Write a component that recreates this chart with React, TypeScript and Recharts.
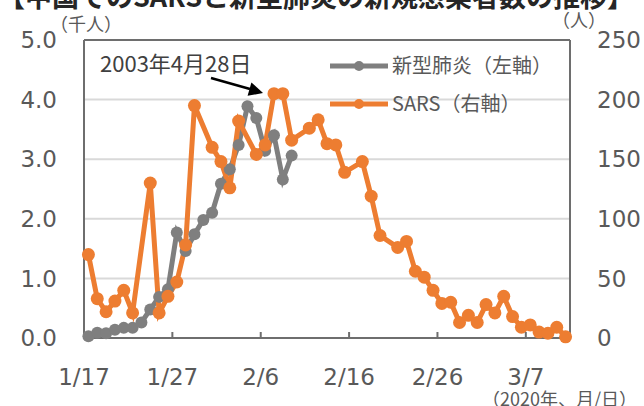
import React from 'react';
import { LineChart, Line, XAxis, YAxis, CartesianGrid, ReferenceLine } from 'recharts';

// 2020/1/17 〜 3/11（日次）
const dates = [
  '1/17', '1/18', '1/19', '1/20', '1/21', '1/22', '1/23', '1/24', '1/25', '1/26',
  '1/27', '1/28', '1/29', '1/30', '1/31', '2/1', '2/2', '2/3', '2/4', '2/5',
  '2/6', '2/7', '2/8', '2/9', '2/10', '2/11', '2/12', '2/13', '2/14', '2/15',
  '2/16', '2/17', '2/18', '2/19', '2/20', '2/21', '2/22', '2/23', '2/24', '2/25',
  '2/26', '2/27', '2/28', '2/29', '3/1', '3/2', '3/3', '3/4', '3/5', '3/6',
  '3/7', '3/8', '3/9', '3/10', '3/11',
];

// 新型肺炎 新規感染者数（千人、左軸）
const covid = [
  0.03, 0.09, 0.08, 0.14, 0.17, 0.17, 0.26, 0.48, 0.69, 0.82,
  1.77, 1.46, 1.74, 1.98, 2.1, 2.59, 2.83, 3.24, 3.89, 3.69,
  3.14, 3.4, 2.66, 3.06,
];

// SARS 新規感染者数（人、右軸）2003/4/28 を 2/7 付近に合わせたもの
const sars: (number | null)[] = [
  70, 33, 22, 31, 40, 21, null, 130, 21, 35,
  47, 78, 195, null, 160, 148, 126, 182, null, 154,
  162, 205, 205, 166, null, 176, 183, 163, 162, 139,
  null, 148, 119, 86, null, 76, 81, 56, 51, 40,
  29, 30, 13, 19, 13, 28, 21, 35, 18, 9,
  11, 5, 4, 9, 1,
];

const xTicks = [0, 10, 20, 30, 40, 50];
const leftTicks = [0, 1, 2, 3, 4, 5];
const rightTicks = [0, 50, 100, 150, 200, 250];

const GRAY = '#7f7f7f';
const ORANGE = '#ed7d31';
const AXIS = '#6e6e6e';
const TEXT = '#595959';
const NUM_FONT = '"DejaVu Sans", Verdana, sans-serif';
const JP_FONT = '"Noto Sans CJK JP", sans-serif';

const data = dates.map((d, i) => ({
  date: d,
  pos: i + 0.5,
  covid: i < covid.length ? covid[i] : null,
  sars: sars[i],
}));

const XTick = (props: any) => {
  const { x, y, payload } = props;
  return (
    <g>
      {payload.value > 0 && <line x1={x} x2={x} y1={y} y2={y - 6} stroke={AXIS} strokeWidth={2} />}
      <text x={x} y={y + 47} textAnchor="middle" fill={TEXT} fontSize={23} fontFamily={NUM_FONT}>
        {dates[payload.value]}
      </text>
    </g>
  );
};

export default function App() {
  return (
    <div style={{ position: 'absolute', left: 0, top: 0, width: 644, height: 406, background: '#fff', overflow: 'hidden' }}>
      <LineChart width={644} height={406} data={data} margin={{ top: 40, right: 0, bottom: 28, left: 0 }}>
        <CartesianGrid vertical={false} stroke="#d9d9d9" strokeWidth={2} yAxisId="left" />
        <XAxis
          type="number"
          dataKey="pos"
          domain={[0, 55]}
          ticks={xTicks}
          tick={<XTick />}
          tickSize={0}
          tickMargin={0}
          tickLine={false}
          axisLine={{ stroke: AXIS, strokeWidth: 2 }}
          height={40}
          interval={0}
        />
        <YAxis
          yAxisId="left"
          domain={[0, 5]}
          ticks={leftTicks}
          tickFormatter={(v: number) => v.toFixed(1)}
          width={84}
          tickSize={0}
          tickMargin={27}
          tickLine={false}
          axisLine={{ stroke: AXIS, strokeWidth: 2 }}
          tick={{ fill: TEXT, fontSize: 23, fontFamily: NUM_FONT }}
          interval={0}
        />
        <YAxis
          yAxisId="right"
          orientation="right"
          domain={[0, 250]}
          ticks={rightTicks}
          width={74}
          tickSize={0}
          tickMargin={27}
          tickLine={false}
          axisLine={{ stroke: AXIS, strokeWidth: 2 }}
          tick={{ fill: TEXT, fontSize: 23, fontFamily: NUM_FONT, textAnchor: 'start' }}
          interval={0}
        />
        <ReferenceLine yAxisId="left" y={5} stroke={AXIS} strokeWidth={2} />
        <Line
          yAxisId="left"
          dataKey="covid"
          stroke={GRAY}
          strokeWidth={5}
          dot={{ r: 6, fill: GRAY, stroke: 'none' }}
          isAnimationActive={false}
          type="linear"
        />
        <Line
          yAxisId="right"
          dataKey="sars"
          stroke={ORANGE}
          strokeWidth={5}
          dot={{ r: 6.5, fill: ORANGE, stroke: 'none' }}
          connectNulls
          isAnimationActive={false}
          type="linear"
        />
      </LineChart>
      <svg width={644} height={406} style={{ position: 'absolute', left: 0, top: 0, pointerEvents: 'none' }}>
        <text x={-2} y={7} fontSize={27} fontWeight="bold" fill="#262626" fontFamily={JP_FONT}>
          【中国でのSARSと新型肺炎の新規感染者数の推移】
        </text>
        <text x={50} y={31} fontSize={18} fill={TEXT} fontFamily={JP_FONT}>（千人）</text>
        <text x={552} y={27} fontSize={18} fill={TEXT} fontFamily={JP_FONT}>（人）</text>
        <text x={100} y={72} fontSize={22} fill="#404040" fontFamily={JP_FONT}>2003年4月28日</text>
        <line x1={211} y1={78} x2={250} y2={89} stroke="#000" strokeWidth={2.5} />
        <polygon points="263,93 247.6,95.8 251.4,82.4" fill="#000" />
        {/* 凡例 */}
        <line x1={330} x2={388} y1={66} y2={66} stroke={GRAY} strokeWidth={5} />
        <circle cx={359} cy={66} r={5} fill={GRAY} />
        <text x={392} y={73} fontSize={20} fill={TEXT} fontFamily={JP_FONT}>新型肺炎（左軸）</text>
        <line x1={330} x2={388} y1={104} y2={104} stroke={ORANGE} strokeWidth={5} />
        <circle cx={359} cy={104} r={5} fill={ORANGE} />
        <text x={392} y={111} fontSize={20} fill={TEXT} fontFamily={JP_FONT}>SARS（右軸）</text>
        <text x={482} y={406} fontSize={18} fill={TEXT} fontFamily={JP_FONT}>（2020年、月/日）</text>
      </svg>
    </div>
  );
}
